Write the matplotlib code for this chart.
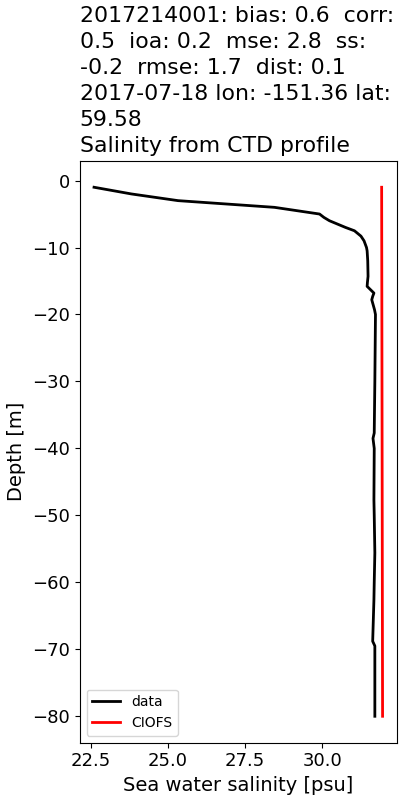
import matplotlib
matplotlib.use("Agg")
import matplotlib.pyplot as plt

# Observed CTD profile (salinity in psu, depth in m)
data_depth = [-1, -2, -3, -4, -5, -5.5, -6, -7, -7.5, -8.3, -9, -10, -10.5, -12,
              -14.3, -15.2, -15.8, -16.8, -17.3, -17.8, -19.3, -20, -25, -30,
              -37.7, -38.5, -40, -47.7, -50, -55.6, -60, -62.6, -68.8, -69.5,
              -75, -80]
data_sal = [22.61, 23.82, 25.33, 28.45, 29.91, 30.05, 30.23, 30.75, 31.04, 31.25,
            31.35, 31.43, 31.45, 31.47, 31.48, 31.46, 31.45, 31.67, 31.63, 31.60,
            31.69, 31.72, 31.71, 31.70, 31.68, 31.64, 31.68, 31.67, 31.68, 31.70,
            31.68, 31.67, 31.63, 31.70, 31.70, 31.70]

# Model profile
model_depth = [-1, -80]
model_sal = [31.92, 31.95]

title = ("2017214001: bias: 0.6  corr:\n0.5  ioa: 0.2  mse: 2.8  ss:\n"
         "-0.2  rmse: 1.7  dist: 0.1\n2017-07-18 lon: -151.36 lat:\n59.58\n"
         "Salinity from CTD profile")

fig = plt.figure(figsize=(4, 8), dpi=100)
ax = fig.add_axes([0.199, 0.0716, 0.7935, 0.7274])
ax.plot(data_sal, data_depth, color="black", lw=2, label="data")
ax.plot(model_sal, model_depth, color="red", lw=2, label="CIOFS")
ax.set_xticks([22.5, 25.0, 27.5, 30.0])
ax.tick_params(labelsize=13)
ax.set_xlabel("Sea water salinity [psu]", fontsize=14)
ax.set_ylabel("Depth [m]", fontsize=14)
ax.set_title(title, loc="left", fontsize=15.8, linespacing=1.38)
ax.legend(loc="lower left", fontsize=10)
fig.savefig("out.png", dpi=100)
